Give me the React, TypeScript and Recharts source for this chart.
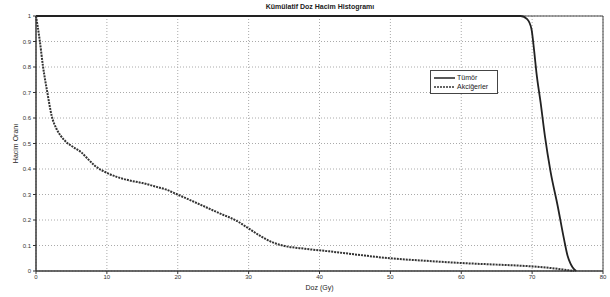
import { LineChart, Line, CartesianGrid, XAxis, YAxis, Legend, ReferenceArea } from "recharts";

// Doz (Gy) ve hacim oranı
const lungDose = [0, 0.5, 1, 1.6, 2.2, 2.9, 3.5, 4.3, 5.3, 6.4, 7.3, 8.3, 10, 11.5, 13.2, 15, 17, 18.5, 19.8, 22, 24, 26, 28.3, 30.1, 31.8, 33.4, 34.8, 38, 41.4, 45, 49.9, 55, 60.2, 65, 70, 72.5, 74.3, 75.9];
const lungVolume = [1, 0.91, 0.8, 0.7, 0.61, 0.557, 0.53, 0.505, 0.485, 0.465, 0.44, 0.413, 0.385, 0.368, 0.355, 0.345, 0.33, 0.318, 0.302, 0.275, 0.25, 0.225, 0.197, 0.165, 0.135, 0.112, 0.1, 0.087, 0.077, 0.065, 0.05, 0.04, 0.031, 0.025, 0.018, 0.012, 0.006, 0];

const tumorDose = [0, 68.4, 69.3, 69.9, 70.3, 70.6, 71.2, 71.8, 72.6, 73.6, 74.5, 75, 75.4, 75.7, 76.2];
const tumorVolume = [1, 1, 0.988, 0.95, 0.86, 0.78, 0.66, 0.53, 0.39, 0.256, 0.125, 0.06, 0.03, 0.015, 0];

const xTicks = [0, 10, 20, 30, 40, 50, 60, 70, 80];
const yTicks = [0, 0.1, 0.2, 0.3, 0.4, 0.5, 0.6, 0.7, 0.8, 0.9, 1];

const lungData = lungDose.map((d, i) => ({ dose: d, value: lungVolume[i] }));
const tumorData = tumorDose.map((d, i) => ({ dose: d, value: tumorVolume[i] }));

const font = "'Liberation Sans', Arial, sans-serif";

function LegendBox() {
  return (
    <div
      style={{
        border: "1px solid #444",
        background: "#fff",
        width: 66,
        padding: "2px 0",
        fontFamily: font,
        fontSize: 7,
        color: "#222",
      }}
    >
      <div style={{ display: "flex", alignItems: "center", height: 9 }}>
        <svg width={26} height={6}>
          <line x1={3} y1={3} x2={24} y2={3} stroke="#222" strokeWidth={1.5} />
        </svg>
        <span style={{ color: "#222" }}>Tümör</span>
      </div>
      <div style={{ display: "flex", alignItems: "center", height: 9 }}>
        <svg width={26} height={6}>
          <line x1={3} y1={3} x2={24} y2={3} stroke="#333" strokeWidth={1.5} strokeDasharray="2 1" />
        </svg>
        <span style={{ color: "#222" }}>Akciğerler</span>
      </div>
    </div>
  );
}

export default function App() {
  return (
    <div style={{ position: "absolute", left: 0, top: 0, width: 610, height: 297, background: "#fff" }}>
      <div
        style={{
          position: "absolute",
          left: 0,
          width: 640,
          top: 3,
          textAlign: "center",
          fontFamily: font,
          fontSize: 7,
          fontWeight: "bold",
          color: "#222",
        }}
      >
        Kümülatif Doz Hacim Histogramı
      </div>
      <LineChart width={610} height={297} margin={{ top: 16, right: 7, bottom: 10, left: 0 }}>
        <CartesianGrid stroke="#aaa" strokeDasharray="1 2" />
        <XAxis
          dataKey="dose"
          type="number"
          domain={[0, 80]}
          ticks={xTicks}
          height={16}
          tickSize={3}
          tickMargin={1}
          stroke="#333"
          tick={{ fill: "#333", fontSize: 6, fontFamily: font }}
          label={{ value: "Doz (Gy)", position: "bottom", offset: -2, fontSize: 7, fontFamily: font, fill: "#222" }}
        />
        <YAxis
          type="number"
          domain={[0, 1]}
          ticks={yTicks}
          width={36}
          tickSize={3}
          tickMargin={2}
          stroke="#333"
          tick={{ fill: "#333", fontSize: 6, fontFamily: font }}
          label={{
            value: "Hacim Oranı",
            angle: -90,
            position: "insideLeft",
            offset: 16,
            style: { textAnchor: "middle" },
            fontSize: 7,
            fontFamily: font,
            fill: "#222",
          }}
        />
        <ReferenceArea x1={0} x2={80} y1={0} y2={1} fill="none" stroke="#444" strokeWidth={1} ifOverflow="visible" />
        <Legend
          layout="horizontal"
          verticalAlign="middle"
          align="center"
          content={<LegendBox />}
          wrapperStyle={{ position: "absolute", left: 430, top: 70, width: "auto", height: "auto" }}
        />
        <Line
          data={tumorData}
          dataKey="value"
          type="monotone"
          stroke="#222"
          strokeWidth={1.8}
          dot={false}
          isAnimationActive={false}
          name="Tümör"
        />
        <Line
          data={lungData}
          dataKey="value"
          type="monotone"
          stroke="#333"
          strokeWidth={2}
          strokeDasharray="2 1"
          dot={false}
          isAnimationActive={false}
          name="Akciğerler"
        />
      </LineChart>
    </div>
  );
}
